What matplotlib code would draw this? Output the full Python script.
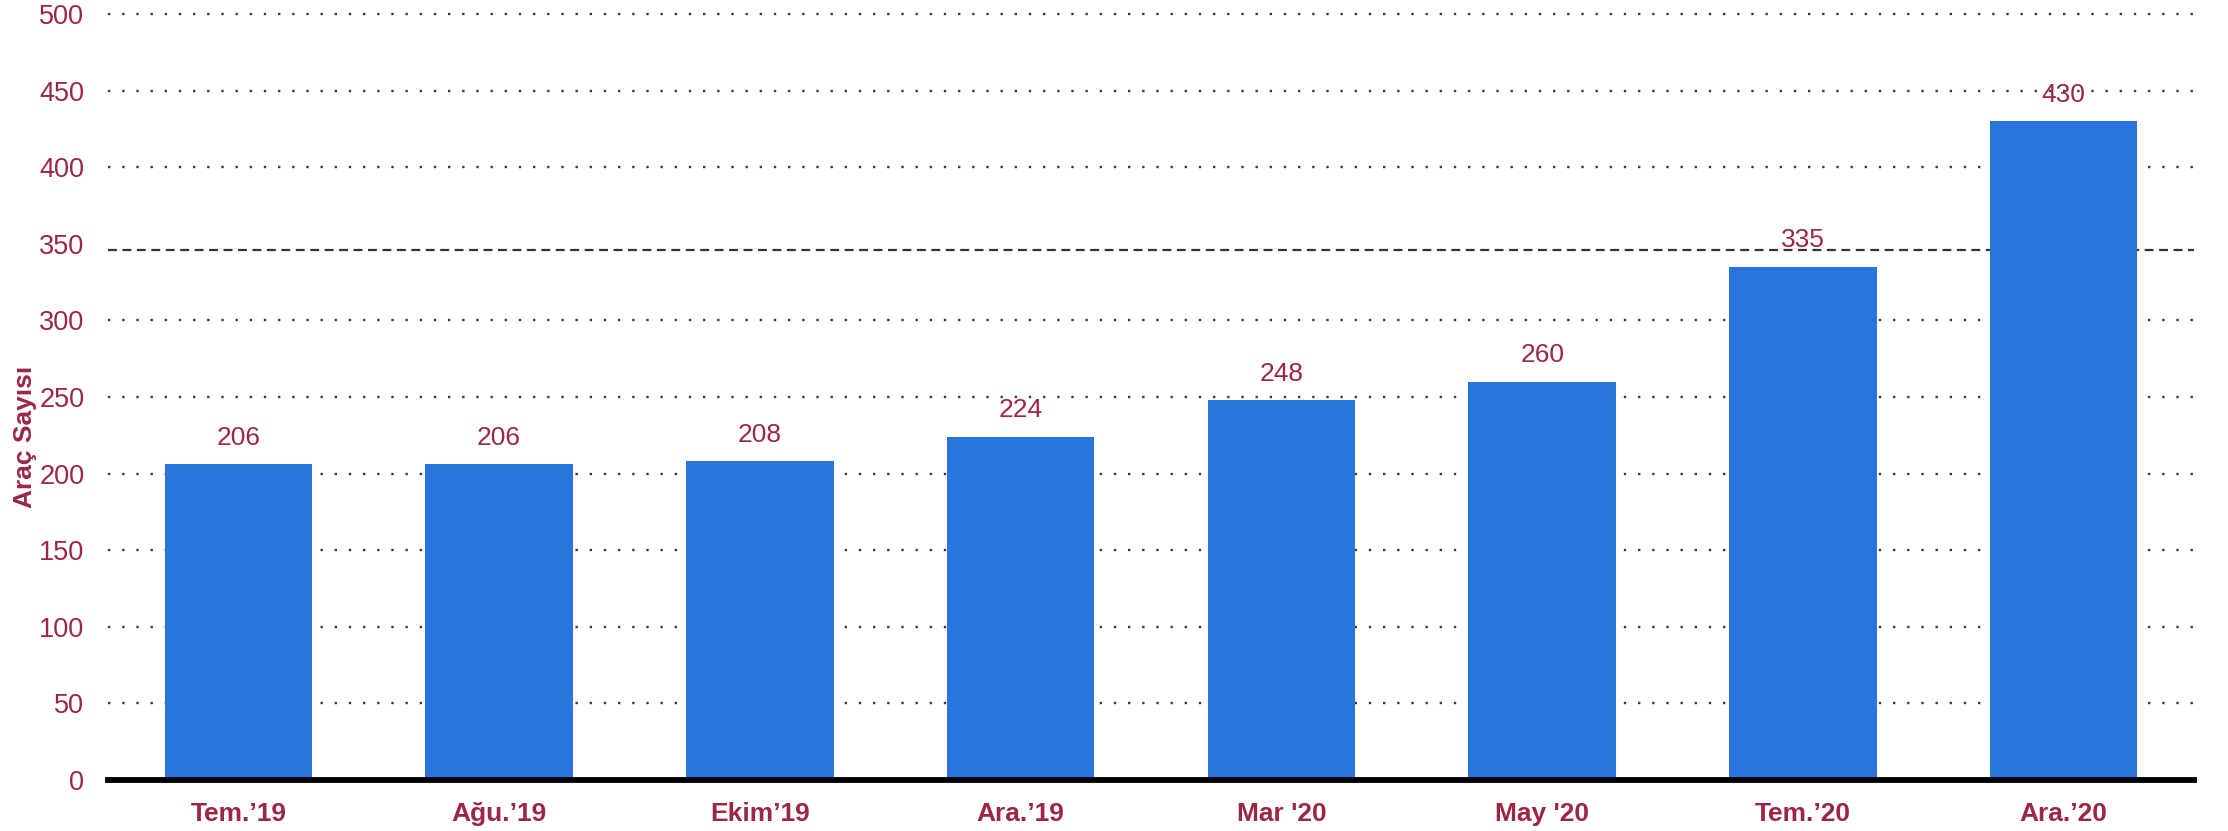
import matplotlib
matplotlib.use('Agg')
import matplotlib.pyplot as plt

# data
months = ['Tem.\u201919', 'A\u011fu.\u201919', 'Ekim\u201919', 'Ara.\u201919',
          "Mar '20", "May '20", 'Tem.\u201920', 'Ara.\u201920']
counts = [206, 206, 208, 224, 248, 260, 335, 430]
ref_level = 346
y_ticks = [0, 50, 100, 150, 200, 250, 300, 350, 400, 450, 500]

BLUE = '#2876dd'
MAROON = '#9b2743'

plt.rcParams['font.family'] = ['Liberation Sans', 'DejaVu Sans']

fig = plt.figure(figsize=(22.28, 8.31), dpi=100, facecolor='white')
ax = fig.add_axes([108 / 2228, 51 / 831, (2194 - 108) / 2228, (780 - 14) / 831])

x = range(len(months))
ax.bar(x, counts, width=0.565, color=BLUE, zorder=3)

# grid: dotted lines, the 350 one drawn as a dashed reference line
for t in y_ticks[1:]:
    if t == 350:
        continue
    ax.axhline(t, color='#3a3a3a', lw=1.7, ls=(0, (1, 5)), zorder=1, clip_on=False)
ax.axhline(ref_level, color='#333333', lw=1.6, ls=(0, (4, 2.5)), zorder=2)
ax.axhline(0, color='black', lw=4.2, zorder=4, clip_on=False)

for xi, v in zip(x, counts):
    ax.annotate(str(v), (xi, v), xytext=(0, 14), textcoords='offset points',
                ha='center', va='baseline', fontsize=19, color=MAROON, zorder=5)

ax.set_xlim(-0.5, len(months) - 0.5)
ax.set_ylim(0, 500)
ax.set_yticks(y_ticks)
ax.set_xticks(list(x))
ax.set_xticklabels(months, fontsize=19, fontweight='bold', color=MAROON)
ax.tick_params(axis='y', length=0, pad=17, labelsize=19.5, labelcolor=MAROON)
ax.tick_params(axis='x', length=0, pad=16)
for sp in ax.spines.values():
    sp.set_visible(False)

fig.text(25 / 2228, 1 - 437 / 831, 'Ara\u00e7 Say\u0131s\u0131', rotation=90,
         ha='center', va='center', fontsize=19, fontweight='bold', color=MAROON)

fig.savefig('out.png', dpi=100, facecolor='white')
